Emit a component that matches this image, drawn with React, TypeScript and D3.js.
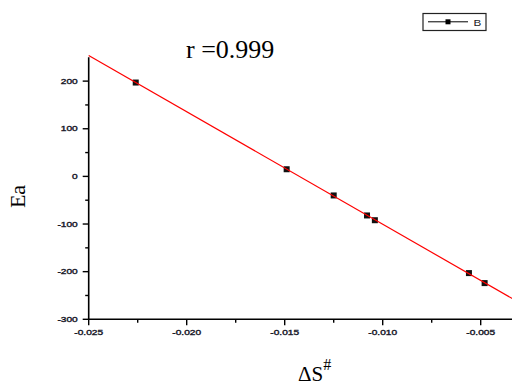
import React from "react";
import * as d3 from "d3";

const W = 512;
const H = 385;

// data (ΔS#, Ea)
const dsValues = [-0.0226, -0.0149, -0.0125, -0.0108, -0.0104, -0.0056, -0.0048];
const eaValues = [197, 15, -40, -82, -92, -203, -224];
const xMajorTicks = [-0.025, -0.02, -0.015, -0.01, -0.005];
const xTickLabels = ["-0.025", "-0.020", "-0.015", "-0.010", "-0.005"];
const xMinorTicks = [-0.0225, -0.0175, -0.0125, -0.0075];
const yMajorTicks = [-300, -200, -100, 0, 100, 200];
const yMinorTicks = [-250, -150, -50, 50, 150];
const titleText = "r =0.999";
const legendLabel = "B";

export default function App() {
  const x = d3.scaleLinear().domain([-0.025, -0.0025]).range([88.7, 529.7]);
  const y = d3.scaleLinear().domain([-300, 250]).range([319.3, 57.3]);

  // least-squares fit
  const mx = d3.mean(dsValues) as number;
  const my = d3.mean(eaValues) as number;
  let sxy = 0, sxx = 0;
  dsValues.forEach((v, i) => {
    sxy += (v - mx) * (eaValues[i] - my);
    sxx += (v - mx) * (v - mx);
  });
  const slope = sxy / sxx;
  const intercept = my - slope * mx;
  const fitX = [-0.025, -0.0025];
  const line = d3
    .line<number>()
    .x((d) => x(d))
    .y((d) => y(slope * d + intercept));

  const pts = dsValues.map((v, i) => [v, eaValues[i]] as [number, number]);
  const tickFont = "'Liberation Sans', Arial, sans-serif";

  return (
    <svg
      width={W}
      height={H}
      style={{ position: "absolute", left: 0, top: 0, background: "#fff", overflow: "hidden" }}
    >
      <rect x={0} y={0} width={W} height={H} fill="#fff" />
      {/* title */}
      <text x={186} y={58} fontFamily="'Liberation Serif', 'Times New Roman', serif" fontSize={26} fill="#000">
        {titleText}
      </text>

      {/* y axis */}
      <line x1={x(-0.025)} x2={x(-0.025)} y1={y(250)} y2={y(-300)} stroke="#000" strokeWidth={1.6} />
      {yMajorTicks.map((t) => (
        <g key={"ym" + t}>
          <line x1={x(-0.025) - 6} x2={x(-0.025)} y1={y(t)} y2={y(t)} stroke="#000" strokeWidth={1.4} />
          <text
            transform={`translate(${x(-0.025) - 11},${y(t) + 2.5}) scale(1.45,1)`}
            textAnchor="end"
            fontFamily={tickFont}
            fontSize={7}
            fill="#1a1a2a"
            stroke="#1a1a2a"
            strokeWidth={0.35}
          >
            {t}
          </text>
        </g>
      ))}
      {yMinorTicks.map((t) => (
        <line key={"yn" + t} x1={x(-0.025) - 3.5} x2={x(-0.025)} y1={y(t)} y2={y(t)} stroke="#000" strokeWidth={1.4} />
      ))}

      {/* x axis */}
      <line x1={x(-0.025)} x2={x(-0.0025)} y1={y(-300)} y2={y(-300)} stroke="#000" strokeWidth={1.6} />
      {xMajorTicks.map((t, i) => (
        <g key={"xm" + t}>
          <line x1={x(t)} x2={x(t)} y1={y(-300)} y2={y(-300) + 6} stroke="#000" strokeWidth={1.4} />
          <text
            transform={`translate(${x(t)},${y(-300) + 16}) scale(1.45,1)`}
            textAnchor="middle"
            fontFamily={tickFont}
            fontSize={7}
            fill="#1a1a2a"
            stroke="#1a1a2a"
            strokeWidth={0.35}
          >
            {xTickLabels[i]}
          </text>
        </g>
      ))}
      {xMinorTicks.map((t) => (
        <line key={"xn" + t} x1={x(t)} x2={x(t)} y1={y(-300)} y2={y(-300) + 3.5} stroke="#000" strokeWidth={1.4} />
      ))}

      {/* data points */}
      {pts.map((p, i) => (
        <rect key={"p" + i} x={x(p[0]) - 3} y={y(p[1]) - 3} width={6} height={6} fill="#111" />
      ))}
      {/* fit line */}
      <path d={line(fitX) as string} fill="none" stroke="#ff0000" strokeWidth={1.2} />

      {/* axis titles */}
      <text
        transform={`translate(25,196.5) rotate(-90)`}
        textAnchor="middle"
        fontFamily="'Liberation Serif', 'Times New Roman', serif"
        fontSize={22}
        fill="#000"
      >
        Ea
      </text>
      <text x={298} y={381} fontFamily="'Liberation Serif', 'Times New Roman', serif" fontSize={21} fill="#000">
        ΔS
        <tspan fontSize={16} dy={-11}>#</tspan>
      </text>

      {/* legend */}
      <rect x={423} y={13.5} width={63} height={17} fill="#fff" stroke="#222" strokeWidth={1.2} />
      <line x1={428} x2={468} y1={21.8} y2={21.8} stroke="#000" strokeWidth={1} />
      <rect x={445.5} y={19.3} width={5} height={5} fill="#000" />
      <text
        transform={`translate(473.5,25.5) scale(1.3,1)`}
        fontFamily={tickFont}
        fontSize={9}
        fill="#222"
      >
        {legendLabel}
      </text>
    </svg>
  );
}
